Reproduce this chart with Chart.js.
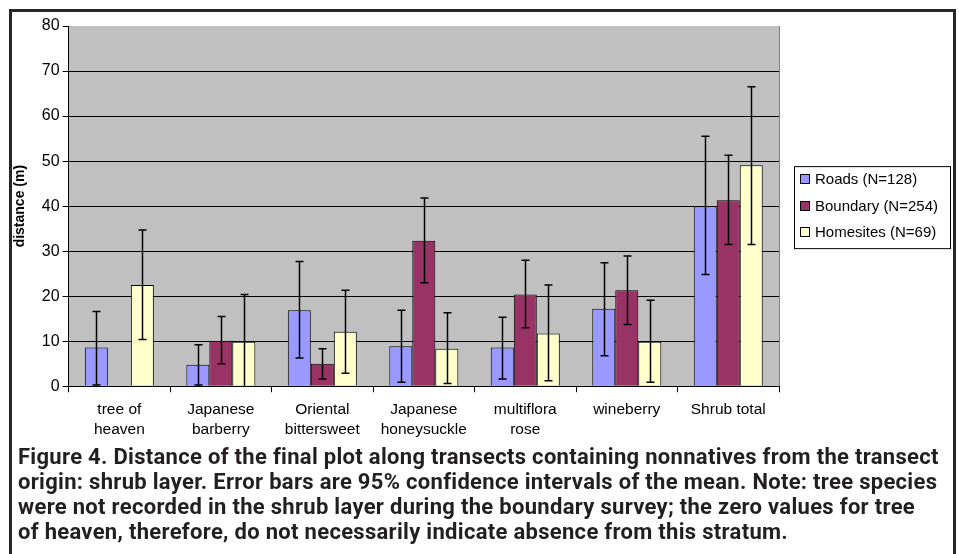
<!DOCTYPE html>
<html>
<head>
<meta charset="utf-8">
<script src="https://cdn.jsdelivr.net/npm/chart.js@4.4.1/dist/chart.umd.min.js"></script>
<style>
    html, body { margin: 0; padding: 0; background: #fff; }
    body { width: 959px; height: 554px; position: relative; overflow: hidden; }
    .frame {
        position: absolute; left: 9px; top: 9px; width: 941px; height: 560px;
        border: 3px solid #262626; border-bottom: none;
    }
    .chart { position: absolute; left: 12px; top: 12px; width: 940px; height: 435px; }
    .caption {
        position: absolute; left: 18px; top: 444px; width: 935px;
        font-family: "Roboto", sans-serif;
        font-weight: bold; font-size: 22px; line-height: 25px; color: #231f20;
        letter-spacing: 0.3px;
        white-space: nowrap;
    }
</style>
</head>
<body>
<div class="frame"></div>
<div class="chart"><canvas id="chart"></canvas></div>
<div class="caption">
    Figure 4. Distance of the final plot along transects containing nonnatives from the transect<br>
    origin: shrub layer. Error bars are 95% confidence intervals of the mean. Note: tree species<br>
    were not recorded in the shrub layer during the boundary survey; the zero values for tree<br>
    of heaven, therefore, do not necessarily indicate absence from this stratum.
</div>
<script>
const categories = [
    ['tree of', 'heaven'],
    ['Japanese', 'barberry'],
    ['Oriental', 'bittersweet'],
    ['Japanese', 'honeysuckle'],
    ['multiflora', 'rose'],
    ['wineberry'],
    ['Shrub total']
];
const seriesLabels = ['Roads (N=128)', 'Boundary (N=254)', 'Homesites (N=69)'];

const roads = [8.6, 4.8, 16.9, 8.9, 8.6, 17.2, 40.0];
const roadsLow = [0.3, 0.3, 6.3, 0.9, 1.6, 6.8, 24.8];
const roadsHigh = [16.6, 9.2, 27.7, 16.9, 15.3, 27.4, 55.5];

const boundary = [0, 10.1, 5.0, 32.3, 20.4, 21.3, 41.3];
const boundaryLow = [null, 5.0, 1.6, 23.0, 13.0, 13.7, 31.5];
const boundaryHigh = [null, 15.5, 8.3, 41.8, 28.0, 28.9, 51.3];

const homesites = [22.5, 9.9, 12.1, 8.3, 11.7, 9.9, 49.1];
const homesitesLow = [10.4, -0.6, 2.9, 0.6, 1.2, 0.9, 31.5];
const homesitesHigh = [34.7, 20.4, 21.3, 16.3, 22.5, 19.1, 66.5];

const yTicks = [0, 10, 20, 30, 40, 50, 60, 70, 80];

const colors = ['#9999ff', '#993366', '#ffffcc'];
const errors = [[roadsLow, roadsHigh], [boundaryLow, boundaryHigh], [homesitesLow, homesitesHigh]];
const fontFamily = '"Liberation Sans", Arial, sans-serif';

// grey plot background
const plotBackground = {
    id: 'plotBackground',
    beforeDraw(chart) {
        const { ctx, chartArea: a } = chart;
        ctx.save();
        ctx.fillStyle = '#c0c0c0';
        ctx.fillRect(a.left, a.top, a.right - a.left, a.bottom - a.top);
        ctx.strokeStyle = '#808080';
        ctx.lineWidth = 1;
        ctx.beginPath();
        ctx.moveTo(a.right + 0.5, a.top);
        ctx.lineTo(a.right + 0.5, a.bottom);
        ctx.stroke();
        ctx.restore();
    }
};

// 95% confidence interval whiskers
const errorBars = {
    id: 'errorBars',
    afterDatasetsDraw(chart) {
        const { ctx, chartArea: a } = chart;
        const y = chart.scales.y;
        ctx.save();
        ctx.beginPath();
        ctx.rect(a.left, a.top, a.right - a.left, a.bottom - a.top + 1);
        ctx.clip();
        ctx.strokeStyle = '#000';
        ctx.lineWidth = 1.5;
        chart.data.datasets.forEach((ds, i) => {
            const [low, high] = errors[i];
            chart.getDatasetMeta(i).data.forEach((bar, j) => {
                if (low[j] == null) return;
                const x = Math.round(bar.x) + 0.5;
                const yl = y.getPixelForValue(low[j]);
                const yh = y.getPixelForValue(high[j]);
                ctx.beginPath();
                ctx.moveTo(x, yl);
                ctx.lineTo(x, yh);
                ctx.moveTo(x - 4, yh);
                ctx.lineTo(x + 4, yh);
                if (low[j] >= 0) {
                    ctx.moveTo(x - 4, yl);
                    ctx.lineTo(x + 4, yl);
                }
                ctx.stroke();
            });
        });
        ctx.restore();
    }
};

// boxed legend at the right
const boxedLegend = {
    id: 'boxedLegend',
    afterDraw(chart) {
        const { ctx, chartArea: a } = chart;
        const left = a.right + 15;
        const width = 156;
        const rowH = 26.5;
        const top = (a.top + a.bottom) / 2 - 40;
        ctx.save();
        ctx.strokeStyle = '#000';
        ctx.lineWidth = 1;
        ctx.strokeRect(left + 0.5, top + 0.5, width, 82);
        ctx.font = '15px ' + fontFamily;
        ctx.textBaseline = 'middle';
        chart.data.datasets.forEach((ds, i) => {
            const cy = Math.round(top + 14 + i * rowH);
            ctx.fillStyle = ds.backgroundColor;
            ctx.fillRect(left + 6.5, cy - 5.5, 9, 9);
            ctx.strokeStyle = '#000';
            ctx.strokeRect(left + 6.5, cy - 5.5, 9, 9);
            ctx.fillStyle = '#000';
            ctx.fillText(ds.label, left + 21, cy);
        });
        ctx.restore();
    }
};

new Chart(document.getElementById('chart'), {
    type: 'bar',
    data: {
        labels: categories,
        datasets: [
            { label: seriesLabels[0], data: roads, backgroundColor: colors[0] },
            { label: seriesLabels[1], data: boundary, backgroundColor: colors[1] },
            { label: seriesLabels[2], data: homesites, backgroundColor: colors[2] }
        ].map(ds => ({ ...ds, borderColor: '#000', borderWidth: 1, categoryPercentage: 0.68, barPercentage: 1.0 }))
    },
    options: {
        responsive: true,
        maintainAspectRatio: false,
        animation: false,
        layout: { padding: { left: 0, right: 173, top: 14, bottom: 0 } },
        plugins: {
            legend: { display: false },
            tooltip: { enabled: false }
        },
        scales: {
            x: {
                grid: { display: true, drawOnChartArea: false, color: '#000', tickLength: 6, offset: true },
                border: { color: '#000', width: 1 },
                ticks: {
                    color: '#000',
                    font: { family: fontFamily, size: 15.5, lineHeight: 1.25 },
                    padding: 8,
                    maxRotation: 0
                }
            },
            y: {
                min: 0,
                max: 80,
                afterBuildTicks: axis => { axis.ticks = yTicks.map(v => ({ value: v })); },
                grid: {
                    color: ctx => (ctx.tick && ctx.tick.value === 80 ? 'rgba(0,0,0,0)' : '#000'),
                    tickColor: '#000',
                    tickLength: 6,
                    lineWidth: 1
                },
                border: { color: '#000', width: 1 },
                ticks: {
                    color: '#000',
                    font: { family: fontFamily, size: 16 },
                    padding: 3
                },
                title: {
                    display: true,
                    text: 'distance (m)',
                    color: '#000',
                    font: { family: fontFamily, size: 14, weight: 'bold' },
                    padding: { top: 0, bottom: 10 }
                }
            }
        }
    },
    plugins: [plotBackground, errorBars, boxedLegend]
});
</script>
</body>
</html>
